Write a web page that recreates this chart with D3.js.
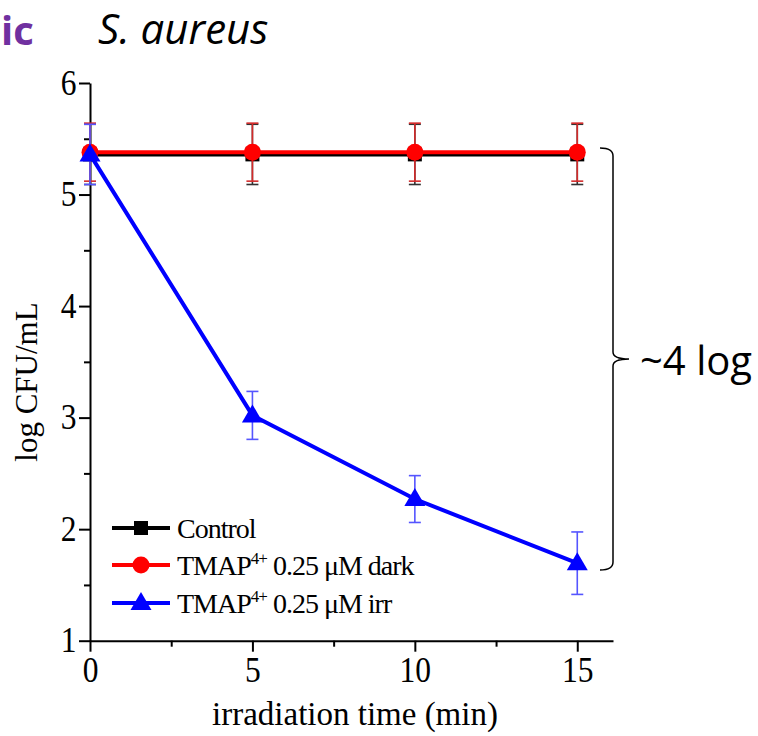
<!DOCTYPE html>
<html>
<head>
<meta charset="utf-8">
<title>S. aureus</title>
<script src="https://d3js.org/d3.v7.min.js" charset="utf-8"></script>
<style>
body { margin: 0; background: white; }
svg { display: block; }
.serif { font-family: "Liberation Serif", "Times New Roman", serif; }
.sans { font-family: "Open Sans", sans-serif; }
</style>
</head>
<body>
<script>
var width = 758;
var height = 736;

// data
var times = [0, 5, 10, 15];
var control = [5.36, 5.36, 5.36, 5.36];
var controlErr = [0.27, 0.27, 0.27, 0.27];
var dark = [5.38, 5.38, 5.38, 5.38];
var darkErr = [0.26, 0.26, 0.26, 0.26];
var irr = [5.36, 3.02, 2.27, 1.695];
var irrErr = [0.27, 0.215, 0.21, 0.28];

var xTicks = [0, 5, 10, 15];
var xMinor = [2.5, 7.5, 12.5];
var yTicks = [1, 2, 3, 4, 5, 6];
var yMinor = [1.5, 2.5, 3.5, 4.5, 5.5];

var svg = d3.select("body").append("svg")
  .attr("width", width)
  .attr("height", height);

var x = d3.scaleLinear().domain([0, 16.1]).range([90, 613]);
var y = d3.scaleLinear().domain([1, 6]).range([640.7, 83]);

// axes
var xAxis = svg.append("g")
  .attr("transform", "translate(0," + y(1) + ")")
  .call(d3.axisBottom(x).tickValues(xTicks).tickFormat(d3.format("d")).tickSize(11).tickPadding(5).tickSizeOuter(0));
svg.append("g")
  .attr("transform", "translate(0," + y(1) + ")")
  .call(d3.axisBottom(x).tickValues(xMinor).tickSize(6).tickFormat("").tickSizeOuter(0))
  .select(".domain").remove();

var yAxis = svg.append("g")
  .attr("transform", "translate(" + x(0) + ",0)")
  .call(d3.axisLeft(y).tickValues(yTicks).tickFormat(d3.format("d")).tickSize(11).tickPadding(4).tickSizeOuter(0));
svg.append("g")
  .attr("transform", "translate(" + x(0) + ",0)")
  .call(d3.axisLeft(y).tickValues(yMinor).tickSize(6).tickFormat("").tickSizeOuter(0))
  .select(".domain").remove();

svg.selectAll(".domain, .tick line").attr("stroke", "#000").attr("stroke-width", 2);
svg.selectAll(".tick text")
  .attr("class", "serif")
  .attr("font-size", 35)
  .attr("fill", "#000");
xAxis.selectAll(".tick text").attr("transform", "scale(0.9,1)");
yAxis.selectAll(".tick text").attr("transform", "scale(0.9,1)");

// axis titles
svg.append("text").attr("class", "serif")
  .attr("x", 355).attr("y", 725)
  .attr("text-anchor", "middle").attr("font-size", 33)
  .text("irradiation time (min)");
svg.append("text").attr("class", "serif")
  .attr("transform", "translate(37,382) rotate(-90)")
  .attr("text-anchor", "middle").attr("font-size", 31)
  .text("log CFU/mL");

// series
var series = [
  { name: "control", vals: control, err: controlErr, color: "#000", errColor: "#333", marker: "square" },
  { name: "dark", vals: dark, err: darkErr, color: "#ff0000", errColor: "#d42a2a", marker: "circle" },
  { name: "irr", vals: irr, err: irrErr, color: "#0000ff", errColor: "#5555ff", marker: "triangle" }
];

var line = d3.line().x(function(d) { return x(d.t); }).y(function(d) { return y(d.v); });

function drawMarker(g, type, color) {
  if (type === "square") {
    g.append("rect").attr("x", -7).attr("y", -7).attr("width", 14).attr("height", 14).attr("fill", color);
  } else if (type === "circle") {
    g.append("circle").attr("r", 8.5).attr("fill", color);
  } else {
    g.append("path").attr("d", "M0,-11L10.5,7L-10.5,7Z").attr("fill", color);
  }
}

series.forEach(function(s) {
  var pts = times.map(function(t, i) { return { t: t, v: s.vals[i], e: s.err[i] }; });
  var eb = svg.append("g").attr("stroke", s.errColor).attr("stroke-width", 1.6).attr("fill", "none");
  pts.forEach(function(p) {
    var cx = x(p.t), y0 = y(p.v + p.e), y1 = y(p.v - p.e);
    eb.append("line").attr("x1", cx).attr("x2", cx).attr("y1", y0).attr("y2", y1);
    eb.append("line").attr("x1", cx - 6).attr("x2", cx + 6).attr("y1", y0).attr("y2", y0);
    eb.append("line").attr("x1", cx - 6).attr("x2", cx + 6).attr("y1", y1).attr("y2", y1);
  });
  svg.append("path").datum(pts)
    .attr("d", line)
    .attr("fill", "none")
    .attr("stroke", s.color)
    .attr("stroke-width", 4);
  pts.forEach(function(p) {
    var g = svg.append("g").attr("transform", "translate(" + x(p.t) + "," + y(p.v) + ")");
    drawMarker(g, s.marker, s.color);
  });
});

// legend
var legendRows = [
  { marker: "square", color: "#000", label: ["Control"] },
  { marker: "circle", color: "#ff0000", label: ["TMAP", "4+", " 0.25 \u03bcM dark"] },
  { marker: "triangle", color: "#0000ff", label: ["TMAP", "4+", " 0.25 \u03bcM irr"] }
];
var legendY = [528, 565, 603];
legendRows.forEach(function(r, i) {
  var g = svg.append("g").attr("transform", "translate(0," + legendY[i] + ")");
  g.append("line").attr("x1", 112).attr("x2", 170).attr("y1", 0).attr("y2", 0)
    .attr("stroke", r.color).attr("stroke-width", 4);
  var m = g.append("g").attr("transform", "translate(141,0)");
  drawMarker(m, r.marker, r.color);
  var t = g.append("text").attr("class", "serif")
    .attr("x", 177).attr("y", 10)
    .attr("font-size", 28).attr("letter-spacing", -1);
  t.append("tspan").text(r.label[0]);
  if (r.label.length > 1) {
    t.append("tspan").attr("dy", -11).attr("font-size", 17).text(r.label[1]);
    t.append("tspan").attr("dy", 11).text(r.label[2]);
  }
});

// bracket annotation
svg.append("path")
  .attr("d", "M600,148 Q613,148 613,156 L613,352 Q613,359 629,359 Q613,359 613,366 L613,562 Q613,570 600,570")
  .attr("fill", "none").attr("stroke", "#000").attr("stroke-width", 1.5);
svg.append("text").attr("class", "sans")
  .attr("x", 640).attr("y", 375).attr("font-size", 40)
  .text("~4 log");

// titles
svg.append("text").attr("class", "sans")
  .attr("x", 98).attr("y", 44).attr("font-size", 42).attr("font-style", "italic")
  .text("S. aureus");
svg.append("text").attr("class", "sans")
  .attr("x", 1).attr("y", 45).attr("font-size", 40).attr("font-weight", "bold")
  .attr("fill", "#7030a0")
  .text("ic");
</script>
</body>
</html>
